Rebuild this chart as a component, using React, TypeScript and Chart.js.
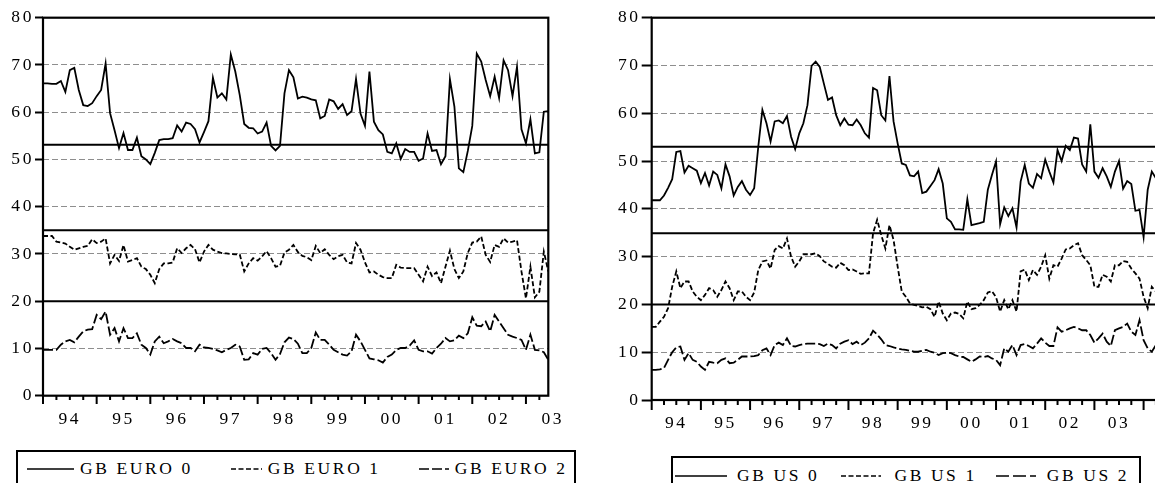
import React, { useEffect, useRef } from 'react';
import { Chart, registerables } from 'chart.js';

Chart.register(...registerables);

// ---------------- data ----------------
const EURO_YEAR_LABELS = ['94', '95', '96', '97', '98', '99', '00', '01', '02', '03'];
const US_YEAR_LABELS = ['94', '95', '96', '97', '98', '99', '00', '01', '02', '03', '04'];
const Y_MIN = 0;
const Y_MAX = 80;
const Y_STEP = 10;
const EURO_THRESHOLDS = [53.1, 35, 20];
const US_THRESHOLDS = [53, 34.9, 20];
const EURO_NAMES = ['GB EURO 0', 'GB EURO 1', 'GB EURO 2'];
const US_NAMES = ['GB US 0', 'GB US 1', 'GB US 2'];

// monthly, 1994M01 - 2003M06
const GB_EURO_0 = [
  66.1, 66.1, 66.0, 66.0, 66.6, 64.3, 68.9, 69.4, 64.7, 61.5, 61.3, 61.9,
  63.4, 64.7, 70.3, 59.8, 56.2, 52.4, 55.6, 52.0, 52.0, 54.6, 50.7, 50.0,
  49.0, 51.4, 54.1, 54.3, 54.3, 54.5, 57.2, 55.9, 57.8, 57.5, 56.4, 53.6,
  55.8, 58.1, 67.3, 63.1, 64.0, 62.7, 72.2, 68.6, 63.6, 57.5, 56.7, 56.6,
  55.5, 55.9, 57.8, 52.9, 51.9, 52.9, 64.0, 68.9, 67.4, 62.9, 63.3, 63.1,
  62.7, 62.5, 58.7, 59.2, 62.7, 62.3, 60.7, 61.7, 59.4, 60.2, 67.0, 59.7,
  57.1, 68.6, 58.0, 56.2, 55.3, 51.6, 51.3, 53.4, 50.1, 52.2, 51.6, 51.6,
  49.7, 50.2, 55.5, 51.8, 52.0, 49.0, 50.7, 67.0, 61.2, 48.1, 47.3, 51.8,
  57.1, 72.4, 70.7, 66.8, 63.4, 67.5, 63.0, 71.0, 68.9, 63.4, 69.6, 56.4,
  53.4, 58.5, 51.3, 51.5, 60.1, 60.2,
];
const GB_EURO_1 = [
  33.8, 33.8, 33.8, 32.6, 32.4, 32.2, 31.5, 30.9, 31.2, 31.5, 31.7, 33.1,
  32.3, 32.6, 33.3, 28.0, 29.8, 28.5, 31.9, 28.4, 28.7, 29.1, 27.3, 26.8,
  25.6, 23.8, 26.8, 28.0, 28.0, 28.2, 31.2, 30.2, 31.2, 31.9, 31.0, 28.2,
  30.5, 31.9, 30.9, 30.5, 30.2, 30.1, 30.0, 29.9, 29.9, 26.3, 28.0, 29.1,
  28.6, 29.5, 30.6, 29.1, 27.3, 27.5, 30.3, 30.9, 31.9, 30.4, 29.6, 29.3,
  28.7, 31.7, 30.2, 31.0, 29.8, 28.9, 29.5, 29.8, 28.2, 28.0, 32.3, 30.9,
  28.2, 26.1, 26.3, 25.6, 25.1, 24.9, 24.9, 27.7, 27.1, 27.0, 27.0, 27.0,
  25.6, 24.2, 27.3, 25.3, 26.1, 23.8, 27.3, 30.7, 26.8, 24.9, 26.3, 30.2,
  32.4, 32.6, 33.7, 29.8, 28.3, 31.9, 31.5, 33.3, 32.4, 32.6, 32.9, 26.3,
  20.6, 27.3, 20.8, 22.0, 30.5, 26.3,
];
const GB_EURO_2 = [
  9.7, 9.7, 9.7, 9.7, 10.8, 11.5, 11.8, 11.3, 12.5, 13.6, 14.0, 14.1,
  17.1, 16.2, 17.8, 12.9, 14.3, 11.5, 14.3, 12.2, 12.2, 13.2, 10.8, 10.1,
  8.7, 11.5, 12.5, 11.1, 11.5, 12.0, 11.5, 11.1, 10.1, 10.1, 9.4, 10.8,
  10.2, 10.1, 9.9, 9.6, 9.2, 9.7, 10.1, 10.8, 10.4, 7.6, 7.7, 9.0,
  8.7, 9.9, 10.1, 9.0, 7.6, 8.8, 11.3, 12.3, 12.0, 11.0, 9.0, 9.0,
  10.1, 13.4, 11.8, 11.8, 10.8, 9.7, 9.2, 8.7, 8.5, 9.4, 12.9, 11.5,
  9.7, 7.9, 7.7, 7.5, 7.0, 8.2, 8.7, 9.7, 10.1, 10.1, 10.6, 11.7,
  9.7, 9.4, 9.4, 8.9, 10.1, 11.0, 12.2, 11.5, 11.7, 12.7, 12.2, 13.2,
  16.6, 14.8, 14.7, 15.7, 13.6, 17.1, 15.7, 14.3, 12.9, 12.5, 12.2, 11.8,
  9.7, 12.9, 9.7, 9.6, 9.2, 7.6,
];

// monthly, 1994M01 - 2004M05
const GB_US_0 = [
  41.8, 41.8, 41.8, 42.8, 44.4, 46.2, 51.9, 52.1, 47.6, 49.0, 48.5, 48.0,
  45.4, 47.5, 44.9, 47.8, 47.1, 44.3, 49.3, 46.8, 42.8, 44.6, 45.8, 44.0,
  42.9, 44.3, 53.0, 60.7, 57.9, 54.1, 58.3, 58.5, 57.9, 59.4, 55.1, 52.5,
  55.8, 57.9, 61.7, 69.9, 70.8, 69.7, 66.2, 62.8, 63.3, 59.6, 57.5, 58.9,
  57.6, 57.5, 58.7, 57.5, 55.8, 54.9, 65.3, 64.8, 59.6, 58.5, 67.8, 58.3,
  53.7, 49.5, 49.2, 47.0, 46.8, 47.8, 43.3, 43.6, 44.8, 46.0, 48.3, 45.3,
  38.0, 37.3, 35.7, 35.7, 35.6, 42.0, 36.6, 36.8, 37.0, 37.3, 44.0, 47.1,
  49.9, 36.8, 40.3, 38.5, 40.1, 36.1, 45.7, 49.2, 45.3, 44.4, 47.3, 46.4,
  50.3, 47.8, 45.5, 52.3, 50.0, 53.2, 52.3, 54.9, 54.7, 49.3, 47.8, 57.7,
  47.8, 46.5, 48.5, 46.8, 44.6, 47.8, 50.0, 44.2, 45.8, 45.2, 39.6, 39.8,
  34.1, 44.0, 47.8, 46.4, 47.0,
];
const GB_US_1 = [
  15.3, 15.3, 16.4, 17.4, 19.2, 23.7, 26.9, 23.4, 24.8, 24.8, 22.7, 21.6,
  20.9, 22.0, 23.4, 23.0, 21.6, 23.0, 24.8, 23.4, 20.9, 22.7, 22.7, 21.6,
  20.9, 22.5, 27.2, 29.0, 29.2, 27.5, 31.4, 32.2, 31.7, 33.8, 30.0, 27.9,
  29.0, 30.5, 30.5, 30.5, 30.7, 30.1, 29.0, 28.5, 27.9, 27.7, 28.7, 28.2,
  27.2, 27.3, 26.9, 26.4, 26.5, 26.5, 34.9, 37.7, 34.5, 31.7, 36.6, 33.5,
  27.9, 22.7, 21.6, 20.2, 19.9, 19.7, 19.4, 19.5, 19.0, 17.4, 20.6, 18.1,
  16.7, 18.1, 18.3, 18.0, 17.1, 20.6, 19.0, 19.2, 19.9, 20.9, 22.5, 22.8,
  21.5, 18.5, 20.9, 19.0, 20.9, 18.5, 26.9, 27.3, 25.1, 27.2, 26.2, 27.9,
  30.3, 25.4, 28.2, 27.9, 29.6, 31.5, 31.7, 32.4, 32.8, 30.3, 29.3, 28.2,
  23.7, 23.7, 26.2, 25.8, 24.8, 28.2, 28.2, 29.1, 28.9, 27.5, 26.5, 25.4,
  21.6, 19.2, 23.7, 22.7, 22.5,
];
const GB_US_2 = [
  6.3, 6.3, 6.4, 6.7, 8.4, 10.0, 11.0, 11.2, 8.4, 9.8, 8.4, 8.0,
  7.0, 6.3, 8.0, 7.8, 7.7, 8.4, 8.7, 7.7, 7.8, 8.4, 9.1, 9.1,
  9.1, 9.2, 9.4, 10.4, 10.8, 9.4, 11.5, 12.0, 11.5, 12.9, 11.3, 11.2,
  11.5, 11.7, 11.8, 11.8, 11.8, 11.7, 11.3, 11.8, 11.5, 10.8, 11.8, 12.2,
  12.5, 11.7, 12.2, 11.5, 12.0, 12.9, 14.5, 13.7, 12.7, 11.5, 11.3, 11.0,
  10.8, 10.6, 10.5, 10.3, 10.1, 10.1, 10.3, 10.5, 10.1, 9.9, 9.4, 9.8,
  9.9, 9.8, 9.4, 9.1, 9.0, 8.5, 8.0, 8.5, 9.1, 9.0, 9.2, 8.7,
  8.4, 7.3, 10.8, 10.1, 11.5, 9.4, 11.5, 11.7, 11.3, 10.8, 11.8, 12.9,
  12.0, 11.3, 11.3, 15.2, 14.3, 14.6, 15.0, 15.3, 15.0, 14.6, 14.6, 13.6,
  12.0, 12.9, 13.9, 12.2, 11.3, 14.6, 15.0, 15.3, 16.0, 14.3, 13.6, 16.7,
  12.5, 10.8, 10.1, 11.5, 12.0,
];

// ---------------- styles ----------------
const DASHES: number[][] = [[], [5, 2.5], [10, 3]];
const LEGEND_DASH = ['', '5 2.5', '10 3'];
const TEXT_FONT = "'Liberation Serif', 'Times New Roman', serif";
const LETTER_SPACING = '2.6px';

const letterSpacingPlugin = {
  id: 'letterSpacing',
  beforeUpdate(chart: any) {
    chart.ctx.letterSpacing = LETTER_SPACING;
  },
  beforeDraw(chart: any) {
    chart.ctx.letterSpacing = LETTER_SPACING;
  },
};

const framePlugin = {
  id: 'frame',
  beforeDatasetsDraw(chart: any, _args: any, opts: any) {
    const { ctx, chartArea: a, scales } = chart;
    ctx.save();
    ctx.strokeStyle = '#000';
    ctx.lineWidth = 2;
    ctx.setLineDash([]);
    for (const t of opts.thresholds as number[]) {
      const y = scales.y.getPixelForValue(t);
      ctx.beginPath();
      ctx.moveTo(a.left, y);
      ctx.lineTo(a.right, y);
      ctx.stroke();
    }
    ctx.restore();
  },
  afterDatasetsDraw(chart: any, _args: any, opts: any) {
    const { ctx, chartArea: a, scales } = chart;
    ctx.save();
    ctx.strokeStyle = '#000';
    ctx.setLineDash([]);
    ctx.lineWidth = 2.2;
    ctx.strokeRect(a.left, a.top, a.right - a.left, a.bottom - a.top);
    const xs = scales.x;
    ctx.lineWidth = 2;
    ctx.beginPath();
    for (let m = xs.min; m <= xs.max; m += 3) {
      const x = xs.getPixelForValue(m);
      const len = m % 12 === 0 ? opts.yearTick : opts.quarterTick;
      ctx.moveTo(x, a.bottom);
      ctx.lineTo(x, a.bottom + len);
    }
    ctx.stroke();
    ctx.restore();
  },
};

type PanelProps = {
  series: number[][];
  yearLabels: string[];
  thresholds: number[];
  width: number;
  height: number;
  padLeft: number;
  padRight: number;
  padTop: number;
  xAxisHeight: number;
  yTickLength: number;
  quarterTick: number;
  yearTick: number;
};

function Panel(p: PanelProps) {
  const ref = useRef<HTMLCanvasElement>(null);
  useEffect(() => {
    const n = p.series[0].length;
    const font = { family: TEXT_FONT, size: 17.5 };
    const chart = new Chart(ref.current as HTMLCanvasElement, {
      type: 'line',
      data: {
        datasets: p.series.map((s, k) => ({
          data: s.map((v, i) => ({ x: i, y: v })),
          borderColor: '#000',
          borderWidth: 1.8,
          borderDash: DASHES[k],
          pointRadius: 0,
          tension: 0,
          fill: false,
        })),
      },
      options: {
        animation: false,
        responsive: false,
        devicePixelRatio: 1,
        layout: { padding: { left: p.padLeft, right: p.padRight, top: p.padTop, bottom: 0 } },
        plugins: {
          legend: { display: false },
          tooltip: { enabled: false },
          frame: { thresholds: p.thresholds, quarterTick: p.quarterTick, yearTick: p.yearTick },
        } as any,
        scales: {
          x: {
            type: 'linear',
            min: 0,
            max: n - 1,
            grid: { display: false, drawTicks: false },
            border: { display: false },
            afterBuildTicks: (s: any) => {
              s.ticks = p.yearLabels.map((_, i) => ({ value: 6 + 12 * i }));
            },
            ticks: {
              autoSkip: false,
              maxRotation: 0,
              minRotation: 0,
              padding: 13,
              color: '#000',
              font,
              callback: (_v: any, i: number) => p.yearLabels[i],
            },
            afterFit: (s: any) => {
              s.height = p.xAxisHeight;
              s.paddingLeft = 0;
              s.paddingRight = 0;
            },
          },
          y: {
            min: Y_MIN,
            max: Y_MAX,
            ticks: { stepSize: Y_STEP, padding: 1, color: '#000', font },
            grid: {
              color: (c: any) =>
                c.tick && (c.tick.value === Y_MIN || c.tick.value === Y_MAX) ? 'rgba(0,0,0,0)' : '#8e8e8e',
              lineWidth: 1,
              drawTicks: true,
              tickLength: p.yTickLength,
              tickColor: '#000',
              tickWidth: 2,
            },
            border: { display: false, dash: [6, 3] },
            afterFit: (s: any) => {
              s.width = 43;
              s.paddingTop = 0;
              s.paddingBottom = 0;
            },
          },
        } as any,
      },
      plugins: [letterSpacingPlugin, framePlugin],
    });
    return () => chart.destroy();
  }, []);
  return (
    <canvas
      ref={ref}
      width={p.width}
      height={p.height}
      style={{ display: 'block', width: p.width, height: p.height }}
    />
  );
}

type LegendItem = { label: string; dash: string; sample: number; gap: number; before: number };

function Legend(props: { left: number; top: number; width: number; padLeft: number; items: LegendItem[] }) {
  return (
    <div
      style={{
        position: 'absolute',
        left: props.left,
        top: props.top,
        width: props.width,
        height: 60,
        border: '2px solid #000',
        boxSizing: 'border-box',
        background: '#fff',
      }}
    >
      <div
        style={{
          display: 'flex',
          alignItems: 'center',
          height: 34.6,
          paddingLeft: props.padLeft,
          whiteSpace: 'nowrap',
        }}
      >
        {props.items.map((it, k) => (
          <div key={k} style={{ display: 'flex', alignItems: 'center', marginLeft: it.before }}>
            <svg width={it.sample} height={4} style={{ display: 'block' }}>
              <line
                x1={0}
                y1={2}
                x2={it.sample}
                y2={2}
                stroke="#000"
                strokeWidth={1.5}
                strokeDasharray={it.dash || undefined}
              />
            </svg>
            <span
              style={{
                marginLeft: it.gap,
                fontFamily: TEXT_FONT,
                fontSize: 17.5,
                letterSpacing: LETTER_SPACING,
                color: '#000',
                lineHeight: 'normal',
              }}
            >
              {it.label}
            </span>
          </div>
        ))}
      </div>
    </div>
  );
}

export default function App() {
  const euroItems: LegendItem[] = [
    { label: EURO_NAMES[0], dash: LEGEND_DASH[0], sample: 47, gap: 6, before: 0 },
    { label: EURO_NAMES[1], dash: LEGEND_DASH[1], sample: 31, gap: 6, before: 38 },
    { label: EURO_NAMES[2], dash: LEGEND_DASH[2], sample: 30, gap: 6, before: 38 },
  ];
  const usItems: LegendItem[] = [
    { label: US_NAMES[0], dash: LEGEND_DASH[0], sample: 52, gap: 10, before: 0 },
    { label: US_NAMES[1], dash: LEGEND_DASH[1], sample: 40, gap: 13, before: 22 },
    { label: US_NAMES[2], dash: '13 4', sample: 40, gap: 11, before: 19 },
  ];
  return (
    <div
      style={{
        position: 'fixed',
        left: 0,
        top: 0,
        width: 1155,
        height: 483,
        overflow: 'hidden',
        background: '#fff',
      }}
    >
      <div style={{ position: 'absolute', left: 0, top: 0 }}>
        <Panel
          series={[GB_EURO_0, GB_EURO_1, GB_EURO_2]}
          yearLabels={EURO_YEAR_LABELS}
          thresholds={EURO_THRESHOLDS}
          width={590}
          height={440}
          padLeft={0}
          padRight={41.7}
          padTop={17.7}
          xAxisHeight={44.3}
          yTickLength={8}
          quarterTick={4.3}
          yearTick={8.3}
        />
      </div>
      <div style={{ position: 'absolute', left: 600, top: 0 }}>
        <Panel
          series={[GB_US_0, GB_US_1, GB_US_2]}
          yearLabels={US_YEAR_LABELS}
          thresholds={US_THRESHOLDS}
          width={580}
          height={444}
          padLeft={8.7}
          padRight={20}
          padTop={17.7}
          xAxisHeight={44}
          yTickLength={10}
          quarterTick={5}
          yearTick={10}
        />
      </div>
      <Legend left={15.7} top={449.7} width={560.3} padLeft={9.3} items={euroItems} />
      <Legend left={671} top={456.3} width={470} padLeft={2} items={usItems} />
    </div>
  );
}
